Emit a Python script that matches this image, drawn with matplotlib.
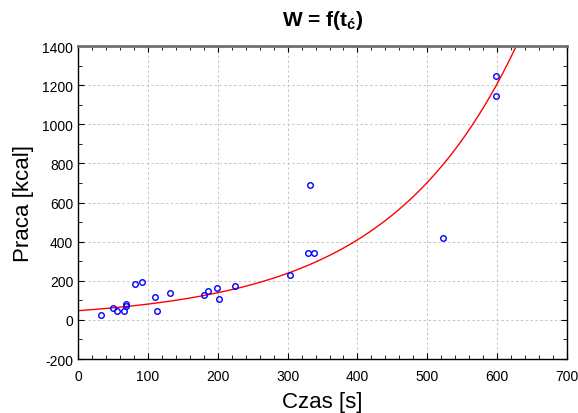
import numpy as np
import matplotlib.pyplot as plt
from matplotlib.ticker import MultipleLocator

plt.rcParams['font.family'] = ['Liberation Sans', 'DejaVu Sans']
plt.rcParams['axes.unicode_minus'] = False
plt.rcParams['mathtext.fontset'] = 'custom'
plt.rcParams['mathtext.rm'] = 'Liberation Sans'
plt.rcParams['mathtext.bf'] = 'Liberation Sans:bold'

# czas [s] and praca [kcal]
czas = [33, 50, 56, 66, 69, 69, 82, 91, 110, 113, 132, 180, 186, 199, 202, 224,
        304, 329, 338, 332, 523, 599, 599]
praca = [25, 60, 48, 48, 70, 82, 184, 196, 116, 48, 138, 128, 150, 162, 106, 172,
         228, 341, 341, 692, 421, 1245, 1142]

# exponential fit y = a*exp(b*x)
fit_a = 47.0
fit_b = 0.00541

fig = plt.figure(figsize=(5.78, 4.14), dpi=100)
ax = fig.add_axes([0.135, 0.1304, 0.846, 0.756])

xx = np.linspace(0, 700, 400)
ax.plot(xx, fit_a * np.exp(fit_b * xx), color='red', lw=1, zorder=2)
ax.plot(czas, praca, 'o', mfc='none', mec='blue', ms=4, mew=1, zorder=3)

ax.set_xlim(0, 700)
ax.set_ylim(-200, 1400)
ax.xaxis.set_major_locator(MultipleLocator(100))
ax.xaxis.set_minor_locator(MultipleLocator(20))
ax.yaxis.set_major_locator(MultipleLocator(200))
ax.yaxis.set_minor_locator(MultipleLocator(100))
ax.tick_params(which='both', direction='in', top=True, right=True,
               labelsize=10, color='black')
ax.tick_params(axis='x', pad=7)
ax.tick_params(which='major', length=4)
ax.tick_params(which='minor', length=3)
ax.grid(True, which='major', color='#c4c4c4', linestyle=(0, (2.5, 2.5)), lw=0.7)
for s in ax.spines.values():
    s.set_linewidth(1)
ax.spines['top'].set_color('#707070')
ax.spines['top'].set_linewidth(2)

ax.set_xlabel('Czas [s]', fontsize=16, labelpad=6)
ax.set_ylabel('Praca [kcal]', fontsize=16, labelpad=6)
ax.set_title(r'W = f(t$_{\mathbf{ć}}$)', fontsize=15, fontweight='bold', pad=15)

fig.savefig('out.png', dpi=100)
